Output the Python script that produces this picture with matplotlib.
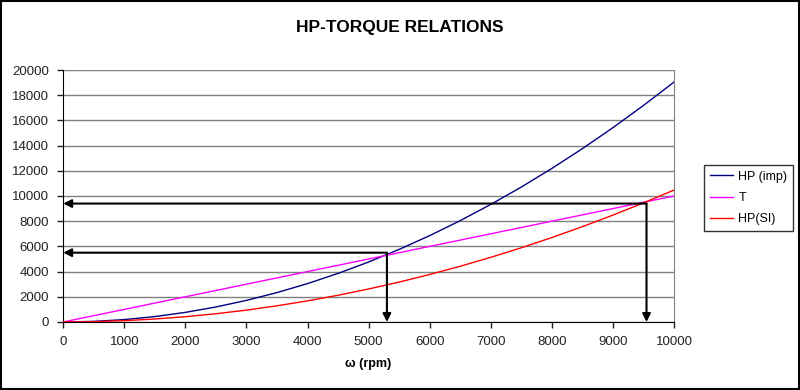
import matplotlib
matplotlib.use("Agg")
import matplotlib.pyplot as plt
from matplotlib.patches import Rectangle

plt.rcParams['font.family'] = ['Liberation Sans', 'DejaVu Sans']

rpm = [0, 500, 1000, 1500, 2000, 2500, 3000, 3500, 4000, 4500, 5000,
       5500, 6000, 6500, 7000, 7500, 8000, 8500, 9000, 9500, 10000]
hp_imp = [0, 48, 190, 428, 762, 1190, 1714, 2333, 3046, 3856, 4760,
          5760, 6854, 8045, 9330, 10711, 12186, 13757, 15423, 17184, 19040]
torque = [0, 500, 1000, 1500, 2000, 2500, 3000, 3500, 4000, 4500, 5000,
          5500, 6000, 6500, 7000, 7500, 8000, 8500, 9000, 9500, 10000]
hp_si = [0, 26, 105, 236, 419, 654, 942, 1283, 1676, 2121, 2618,
         3168, 3770, 4425, 5131, 5890, 6702, 7566, 8482, 9451, 10472]

# crossing points marked with arrows (rpm, value)
cross_rpm = [5300, 9550]
cross_val = [5500, 9400]

xticks = [0, 1000, 2000, 3000, 4000, 5000, 6000, 7000, 8000, 9000, 10000]
yticks = [0, 2000, 4000, 6000, 8000, 10000, 12000, 14000, 16000, 18000, 20000]

fig = plt.figure(figsize=(8, 3.9), dpi=100)
ax = fig.add_axes([0.079, 0.1744, 0.7635, 0.6461])

for y in yticks:
    ax.axhline(y, color='#808080', lw=1, zorder=1)

ax.plot(rpm, hp_imp, color='#000080', lw=1, label='HP (imp)', zorder=3)
ax.plot(rpm, torque, color='#FF00FF', lw=1, label='T', zorder=3)
ax.plot(rpm, hp_si, color='#FF0000', lw=1, label='HP(SI)', zorder=3)

for cx, cy in zip(cross_rpm, cross_val):
    ap = dict(arrowstyle='-|>', color='black', lw=1.5, mutation_scale=12,
              shrinkA=0, shrinkB=0)
    ax.annotate('', xy=(0, cy), xytext=(cx, cy), arrowprops=ap, zorder=4)
    ax.annotate('', xy=(cx, 0), xytext=(cx, cy), arrowprops=ap, zorder=4)

ax.set_xlim(0, 10000)
ax.set_ylim(0, 20000)
ax.set_xticks(xticks)
ax.set_yticks(yticks)
ax.tick_params(axis='both', direction='out', length=4, width=1,
               labelsize=9.5, colors='#222222', pad=6)
ax.spines['top'].set_visible(False)
ax.spines['left'].set_color('black')
ax.spines['bottom'].set_color('black')
ax.spines['right'].set_color('#808080')
ax.set_xlabel('ω (rpm)', fontsize=9, fontweight='bold', labelpad=7)

fig.text(0.5, 0.93, 'HP-TORQUE RELATIONS', ha='center', va='center',
         fontsize=12.5, fontweight='bold')

leg = fig.legend(loc='upper left', bbox_to_anchor=(0.88, 0.577),
                 fontsize=9, frameon=True, fancybox=False,
                 edgecolor='black', handlelength=1.9, handletextpad=0.4,
                 borderpad=0.45, labelspacing=0.75, borderaxespad=0)
leg.get_frame().set_linewidth(1)

fig.patches.append(Rectangle((0.001, 0.002), 0.998, 0.996, transform=fig.transFigure,
                             fill=False, edgecolor='black', lw=1.5))

fig.savefig('out.png', dpi=100)
